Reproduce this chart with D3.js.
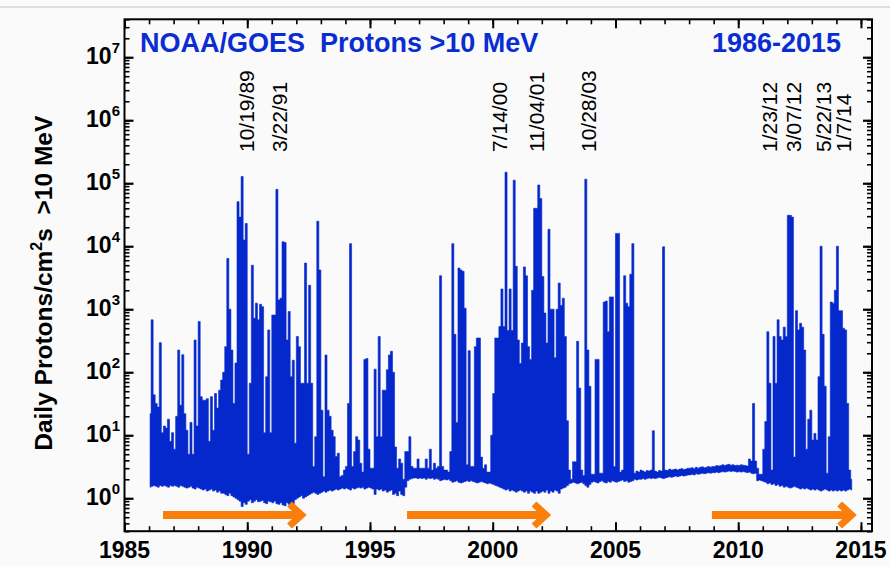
<!DOCTYPE html>
<html>
<head>
<meta charset="utf-8">
<script src="https://cdn.jsdelivr.net/npm/d3@7"></script>
<style>
  html, body { margin: 0; padding: 0; background: #fafafa; }
  svg { display: block; font-family: "Liberation Sans", Arial, Helvetica, sans-serif; }
</style>
</head>
<body>
<svg id="chart" width="890" height="566"></svg>
<script>
// Monthly extremes of the daily >10 MeV proton flux (protons/cm^2 s), GOES, Jan 1986 onward.
const firstYear = 1986;

const peaks1986to1995 = [
  22, 680, 44, 32, 28, 295, 11, 14, 13, 18, 8, 11,
  6, 20, 225, 30, 190, 22, 12, 5, 16, 5, 325, 14,
  640, 41, 36, 36, 38, 8, 41, 12, 46, 27, 52, 75,
  100, 255, 6400, 1000, 225, 32, 140, 51000, 29000, 128000, 12600, 23000,
  5, 67, 5000, 720, 1250, 680, 1200, 1100, 11, 85, 470, 11,
  810, 810, 80000, 1400, 1500, 11800, 11500, 325, 920, 85, 155, 7.5,
  370, 255, 67, 67, 5400, 67, 2400, 67, 3.2, 9.5, 25000, 4200,
  25, 2.2, 188, 25, 20, 12, 9.5, 4.6, 5.2, 2.2, 2.3, 2.8,
  3.2, 32, 11000, 3.2, 5.5, 9.5, 8.4, 3.6, 2.6, 160, 165, 6,
  3, 3, 112, 9.5, 370, 9.5, 52, 52, 110, 188, 215, 100
];
const peaks1996to2005 = [
  6.5, 3, 4.2, 3.6, 2, 5.5, 5.5, 9.5, 3.2, 3, 3, 4.2,
  3, 3, 3, 4.2, 3, 6, 2.8, 3.6, 3, 3.2, 3400, 3.2,
  2.8, 2.8, 2.6, 5.5, 11000, 400, 16, 4500, 4200, 4000, 1040, 3.4,
  220, 3.2, 3.2, 255, 350, 350, 4.5, 3, 3.4, 2.6, 2.6, 10,
  46, 350, 350, 530, 2100, 530, 150000, 460, 2100, 460, 112000, 4800,
  325, 138, 290, 4700, 3400, 255, 160, 2000, 40000, 40000, 94000, 57000,
  3300, 870, 290, 18600, 1000, 1000, 170, 1000, 2600, 1150, 1500, 370,
  17, 2.8, 2, 3.8, 3.8, 310, 56, 2.8, 2.3, 116000, 225, 60,
  2.4, 2.4, 160, 160, 2.5, 2.5, 1300, 1350, 440, 1570, 1570, 3.2,
  16000, 16000, 2.6, 2.8, 3400, 1250, 1100, 3600, 11000, 2.5, 2.7, 2.6
];
const peaks2006to2014 = [
  2.8, 2.7, 2.6, 2.75, 2.7, 2.8, 11.8, 2.7, 2.6, 2.75, 2.7, 9800,
  2.8, 2.75, 2.9, 2.8, 2.85, 2.9, 2.8, 2.9, 2.95, 2.85, 2.9, 3.0,
  3.0, 3.05, 2.95, 3.1, 3.0, 3.1, 3.15, 3.05, 3.1, 3.2, 3.1, 3.2,
  3.2, 3.3, 3.25, 3.3, 3.4, 3.3, 3.4, 3.45, 3.35, 3.4, 3.3, 3.35,
  3.3, 3.4, 3.35, 3.3, 3.25, 4.2, 3.9, 32, 3.9, 3.0, 2.4, 2.4,
  6, 16.5, 440, 67, 2.8, 370, 67, 680, 370, 325, 520, 370,
  31000, 31000, 29000, 4.5, 950, 470, 600, 520, 225, 6, 18, 25,
  8.4, 10.7, 8.4, 85, 10000, 400, 60, 2.5, 9.5, 1300, 1250, 2000,
  10000, 950, 950, 500, 470, 32, 2.8, 2.0
];

const floors1986to1995 = [
  1.5, 1.55, 1.6, 1.55, 1.5, 1.6, 1.55, 1.6, 1.55, 1.5, 1.6, 1.55,
  1.6, 1.55, 1.5, 1.6, 1.55, 1.5, 1.45, 1.5, 1.55, 1.45, 1.4, 1.5,
  1.45, 1.4, 1.35, 1.4, 1.3, 1.35, 1.4, 1.3, 1.35, 1.25, 1.3, 1.2,
  1.2, 1.15, 1.1, 1.2, 1.1, 1.05, 1.0, 0.95, 0.9, 0.74, 0.85, 0.8,
  0.9, 0.95, 0.85, 0.9, 0.95, 0.88, 0.9, 0.92, 0.85, 0.82, 0.9, 0.88,
  0.85, 0.9, 0.82, 0.8, 0.85, 0.78, 0.76, 0.85, 0.8, 0.82, 0.74, 0.95,
  1.0, 1.05, 1.1, 1.0, 1.05, 1.1, 1.15, 1.2, 1.25, 1.2, 1.15, 1.2,
  1.25, 1.3, 1.25, 1.3, 1.35, 1.3, 1.35, 1.4, 1.35, 1.4, 1.45, 1.4,
  1.45, 1.4, 1.35, 1.45, 1.4, 1.45, 1.5, 1.45, 1.5, 1.4, 1.45, 1.5,
  1.45, 1.4, 1.15, 1.4, 1.35, 1.4, 1.3, 1.35, 1.25, 1.3, 1.35, 1.15
];
const floors1996to2005 = [
  1.2, 1.1, 1.3, 1.15, 1.1, 1.5, 1.9, 2.0, 2.05, 2.1, 2.1, 2.05,
  2.1, 2.05, 2.1, 2.0, 2.1, 2.05, 2.1, 2.0, 2.05, 2.0, 1.9, 1.95,
  2.0, 1.95, 2.0, 1.9, 1.8, 1.85, 1.9, 1.8, 1.75, 1.8, 1.85, 1.9,
  1.85, 1.9, 1.85, 1.8, 1.75, 1.8, 1.85, 1.8, 1.75, 1.7, 1.75, 1.7,
  1.65, 1.6, 1.55, 1.5, 1.45, 1.4, 1.35, 1.4, 1.3, 1.35, 1.3, 1.25,
  1.3, 1.35, 1.3, 1.25, 1.3, 1.2, 1.3, 1.25, 1.2, 1.3, 1.2, 1.25,
  1.3, 1.25, 1.35, 1.2, 1.3, 1.25, 1.35, 1.3, 1.2, 1.4, 1.45, 1.5,
  1.6, 1.7, 1.75, 1.8, 1.75, 1.7, 1.75, 1.8, 1.7, 1.6, 1.5, 1.65,
  1.8, 1.85, 1.8, 1.75, 1.85, 1.9, 1.8, 1.75, 1.85, 1.8, 1.9, 1.85,
  1.8, 1.85, 1.9, 1.95, 1.85, 1.9, 1.8, 1.85, 1.9, 2.0, 1.95, 2.0
];
const floors2006to2014 = [
  2.0, 2.05, 2.0, 2.05, 2.1, 2.05, 2.1, 2.05, 2.1, 2.15, 2.1, 2.05,
  2.1, 2.15, 2.2, 2.15, 2.2, 2.25, 2.2, 2.25, 2.3, 2.25, 2.3, 2.35,
  2.35, 2.4, 2.35, 2.45, 2.4, 2.45, 2.5, 2.45, 2.5, 2.55, 2.5, 2.55,
  2.55, 2.6, 2.55, 2.6, 2.65, 2.6, 2.65, 2.7, 2.65, 2.7, 2.65, 2.6,
  2.65, 2.6, 2.65, 2.6, 2.55, 2.6, 2.5, 2.45, 2.5, 1.9, 1.95, 1.9,
  1.85, 1.8, 1.7, 1.75, 1.65, 1.7, 1.6, 1.65, 1.55, 1.6, 1.5, 1.55,
  1.5, 1.45, 1.5, 1.55, 1.5, 1.45, 1.4, 1.45, 1.4, 1.45, 1.4, 1.35,
  1.4, 1.35, 1.4, 1.35, 1.3, 1.35, 1.4, 1.35, 1.3, 1.35, 1.3, 1.35,
  1.3, 1.35, 1.3, 1.35, 1.3, 1.35, 1.4, 1.35
];

// Major solar proton events named above the plot
const eventLabels = ["10/19/89", "3/22/91", "7/14/00", "11/04/01", "10/28/03",
                     "1/23/12", "3/07/12", "5/22/13", "1/7/14"];
const eventYears = [1989.80, 1991.22, 2000.535, 2001.84, 2003.82,
                    2012.06, 2012.18, 2013.39, 2014.02];

// Solar-maximum spans marked by arrows under the flux curve
const arrowStarts = [1986.57, 1996.51, 2008.93];
const arrowEnds = [1992.21, 2002.17, 2014.62];

const xTickYears = [1985, 1990, 1995, 2000, 2005, 2010, 2015];
const yTickExponents = [0, 1, 2, 3, 4, 5, 6, 7];

const titleText = "NOAA/GOES  Protons >10 MeV";
const spanText = "1986-2015";
const yTitleParts = ["Daily Protons/cm", "2", "s  >10 MeV"];

// ---------------------------------------------------------------------------
const svg = d3.select("#chart");
const W = 890, H = 566;
const plot = { left: 124.5, right: 872, top: 19.3, bottom: 531.2 };
const blue = "#0528cc";
const titleBlue = "#0a2dd2";
const orange = "#fa7e0c";

svg.append("rect").attr("width", W).attr("height", H).attr("fill", "#fafafa");
svg.append("line").attr("x1", 0).attr("x2", W).attr("y1", 7).attr("y2", 7)
  .attr("stroke", "#d4d4d4").attr("stroke-width", 1.5);

const x = d3.scaleLinear().domain([1985, 2015.45]).range([plot.left, plot.right]);
const y = d3.scaleLog().domain([0.3, 4e7]).range([plot.bottom, plot.top]);

const peaks = [...peaks1986to1995, ...peaks1996to2005, ...peaks2006to2014];
const floors = [...floors1986to1995, ...floors1996to2005, ...floors2006to2014];
const monthly = peaks.map((p, i) => ({ t: firstYear + (i + 0.5) / 12, hi: p, lo: floors[i] }));

// flux band: each month spans its lowest to highest daily value
const area = d3.area()
  .x(d => x(d.t))
  .y0(d => y(d.lo))
  .y1(d => y(d.hi))
  .curve(d3.curveStep);

svg.append("path")
  .datum(monthly)
  .attr("d", area)
  .attr("fill", blue)
  .attr("stroke", blue)
  .attr("stroke-width", 0.6)
  .attr("stroke-linejoin", "round");

// arrows
const arrowY = 515;
arrowStarts.forEach((a, i) => {
  const x0 = x(a), x1 = x(arrowEnds[i]);
  const g = svg.append("g").attr("stroke", orange).attr("fill", "none");
  g.append("line").attr("x1", x0).attr("x2", x1 - 4).attr("y1", arrowY).attr("y2", arrowY)
    .attr("stroke-width", 8);
  g.append("path")
    .attr("d", `M${x1 - 12},${arrowY - 11}L${x1},${arrowY}L${x1 - 12},${arrowY + 11}`)
    .attr("stroke-width", 7).attr("stroke-linejoin", "miter").attr("stroke-miterlimit", 4);
});

// ticks
const years = d3.range(1985, 2016);
const minorY = [];
for (let e = -1; e <= 7; e++) {
  for (let k = 1; k <= 9; k++) {
    const v = k * Math.pow(10, e);
    if (v >= 0.3 && v <= 4e7) minorY.push(v);
  }
}
const majorY = yTickExponents.map(e => Math.pow(10, e));

function styleAxis(g, w) {
  g.select(".domain").remove();
  g.selectAll(".tick line").attr("stroke", "#000").attr("stroke-width", w);
  g.selectAll(".tick text").remove();
}
const axes = [
  [d3.axisBottom(x).tickValues(years).tickSize(-5), `translate(0,${plot.bottom})`, 1.6],
  [d3.axisBottom(x).tickValues(xTickYears).tickSize(-9), `translate(0,${plot.bottom})`, 2],
  [d3.axisTop(x).tickValues(years).tickSize(-5), `translate(0,${plot.top})`, 1.6],
  [d3.axisTop(x).tickValues(xTickYears).tickSize(-9), `translate(0,${plot.top})`, 2],
  [d3.axisLeft(y).tickValues(minorY).tickSize(-5), `translate(${plot.left},0)`, 1.6],
  [d3.axisLeft(y).tickValues(majorY).tickSize(-9), `translate(${plot.left},0)`, 2.2],
  [d3.axisRight(y).tickValues(minorY).tickSize(-5), `translate(${plot.right},0)`, 1.6],
  [d3.axisRight(y).tickValues(majorY).tickSize(-9), `translate(${plot.right},0)`, 2.2]
];
axes.forEach(([ax, tr, w]) => {
  svg.append("g").attr("transform", tr).call(ax).call(g => styleAxis(g, w));
});

// frame
svg.append("rect")
  .attr("x", plot.left).attr("y", plot.top)
  .attr("width", plot.right - plot.left).attr("height", plot.bottom - plot.top)
  .attr("fill", "none").attr("stroke", "#000").attr("stroke-width", 2);

// x tick labels
svg.append("g").selectAll("text").data(xTickYears).join("text")
  .attr("x", d => x(d)).attr("y", 558)
  .attr("text-anchor", "middle")
  .attr("font-size", 23).attr("font-weight", "bold").attr("fill", "#000")
  .text(d => d);

// y tick labels: 10 with a raised exponent
const yl = svg.append("g").selectAll("text").data(yTickExponents).join("text")
  .attr("x", 120).attr("y", d => y(Math.pow(10, d)) + 7)
  .attr("text-anchor", "end")
  .attr("font-size", 23).attr("font-weight", "bold").attr("fill", "#000");
yl.append("tspan").text("10");
yl.append("tspan").attr("dy", -11).attr("font-size", 15).text(d => d);

// y axis title
const yt = svg.append("text")
  .attr("transform", `translate(52,${(plot.top + plot.bottom) / 2 + 8}) rotate(-90)`)
  .attr("text-anchor", "middle")
  .attr("font-size", 24.5).attr("font-weight", "bold").attr("fill", "#000")
  .style("white-space", "pre");
yt.append("tspan").text(yTitleParts[0]);
yt.append("tspan").attr("dy", -10).attr("font-size", 16).text(yTitleParts[1]);
yt.append("tspan").attr("dy", 10).text(yTitleParts[2]);

// title
svg.append("text").attr("x", 140).attr("y", 52)
  .attr("font-size", 27).attr("font-weight", "bold").attr("fill", titleBlue)
  .style("white-space", "pre").text(titleText);
svg.append("text").attr("x", 841).attr("y", 52).attr("text-anchor", "end")
  .attr("font-size", 27).attr("font-weight", "bold").attr("fill", titleBlue)
  .text(spanText);

// event date labels, nudged sideways where neighbours would collide
const labelShift = [4, 2, -6, -1, 2, -19, 2, 2, 7];
svg.append("g").selectAll("text").data(eventLabels).join("text")
  .attr("transform", (d, i) => `translate(${x(eventYears[i]) + 7.5 + labelShift[i]},152) rotate(-90)`)
  .attr("font-size", 21).attr("fill", "#000")
  .text(d => d);
</script>
</body>
</html>
